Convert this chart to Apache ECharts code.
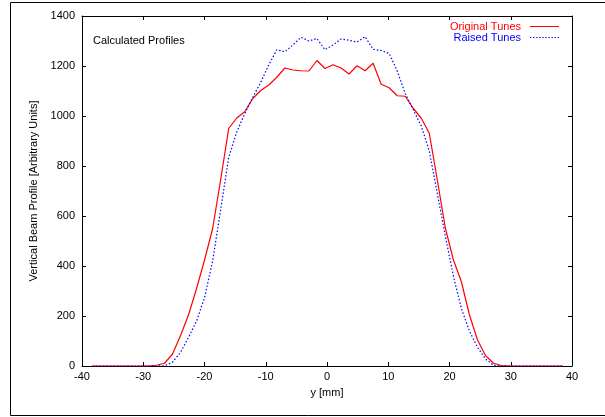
<!DOCTYPE html>
<html>
<head>
<meta charset="utf-8">
<script src="https://cdn.jsdelivr.net/npm/echarts@6/dist/echarts.min.js"></script>
<style>
  html, body { margin: 0; padding: 0; background: #ffffff; }
  #chart { width: 605px; height: 417px; }
</style>
</head>
<body>
<div id="chart"></div>
<script>
// Sample positions y [mm]
var yPositions = [
  -38.32, -37.01, -35.70, -34.39, -33.08, -31.77, -30.46, -29.15, -27.84, -26.53,
  -25.22, -23.91, -22.60, -21.29, -19.98, -18.67, -17.36, -16.05, -14.74, -13.43,
  -12.12, -10.81, -9.50, -8.19, -6.88, -5.57, -4.26, -2.95, -1.64, -0.33,
  0.98, 2.29, 3.60, 4.91, 6.22, 7.53, 8.84, 10.15, 11.46, 12.77,
  14.08, 15.39, 16.70, 18.01, 19.32, 20.63, 21.94, 23.25, 24.56, 25.87,
  27.18, 28.49, 29.80, 31.11, 32.42, 33.73, 35.04, 36.35, 37.66, 38.50
];
// Original Tunes profile
var originalTunes = [
  0, 0, 0, 0, 0, 0, 0, 0, 3, 11,
  48, 122, 205, 310, 425, 550, 745, 950, 992, 1017,
  1070, 1102, 1124, 1155, 1192, 1184, 1181, 1180, 1222, 1190,
  1205, 1192, 1168, 1201, 1181, 1211, 1127, 1113, 1081, 1079,
  1031, 991, 931, 744, 552, 425, 337, 205, 105, 42,
  11, 2, 0, 0, 0, 0, 0, 0, 0, 0
];
// Raised Tunes profile
var raisedTunes = [
  0, 0, 0, 0, 0, 0, 0, 0, 0, 1,
  15, 55, 115, 180, 275, 420, 625, 835, 935, 1010,
  1075, 1135, 1205, 1265, 1257, 1284, 1315, 1300, 1310, 1265,
  1284, 1308, 1303, 1296, 1317, 1267, 1262, 1250, 1180, 1090,
  1025, 960, 860, 690, 520, 360, 230, 140, 75, 28,
  3, 0, 0, 0, 0, 0, 0, 0, 0, 0
];
var xTicks = [-40, -30, -20, -10, 0, 10, 20, 30, 40];
var yTicks = [0, 200, 400, 600, 800, 1000, 1200, 1400];

function pairs(xs, ys) {
  var out = [];
  for (var i = 0; i < xs.length; i++) out.push([xs[i], ys[i]]);
  return out;
}

// legend sample icons: a solid stroke and a row of dots
var solidIcon = 'path://M0,0h29v1h-29z';
var dottedIcon = 'path://' + (function () {
  var s = '';
  for (var i = 0; i < 10; i++) s += 'M' + (i * 3) + ',0h1.3v1h-1.3z';
  return s;
})();

var FONT = '"Liberation Sans", Arial, Helvetica, sans-serif';
var chart = echarts.init(document.getElementById('chart'), null, { renderer: 'canvas' });

var axisLineStyle = { onZero: false, lineStyle: { color: '#000', width: 1 } };
var plain = function (v) { return String(v); };
var option = {
  animation: false,
  backgroundColor: '#fff',
  textStyle: { fontFamily: FONT },
  grid: { left: 82, right: 33, top: 16, bottom: 51, containLabel: false },
  legend: {
    orient: 'vertical',
    right: 46,
    top: 21,
    align: 'right',
    padding: 0,
    itemGap: 0,
    itemWidth: 29,
    itemHeight: 1,
    symbolKeepAspect: false,
    textStyle: { fontSize: 11, fontFamily: FONT, padding: [0, 4, 0, 0] },
    data: [
      { name: 'Original Tunes', icon: solidIcon, itemStyle: { color: '#ff0000' }, textStyle: { color: '#ff0000' } },
      { name: 'Raised Tunes', icon: dottedIcon, itemStyle: { color: '#0000ff' }, textStyle: { color: '#0000ff' } }
    ]
  },
  xAxis: [
    {
      type: 'value', position: 'bottom',
      min: xTicks[0], max: xTicks[xTicks.length - 1], interval: 10,
      name: 'y [mm]', nameLocation: 'middle', nameGap: 21,
      nameTextStyle: { fontSize: 11, color: '#000', fontFamily: FONT },
      axisLine: axisLineStyle,
      axisTick: { inside: true, length: 4, lineStyle: { color: '#000' } },
      axisLabel: { fontSize: 11, color: '#000', margin: 5, fontFamily: FONT, formatter: plain },
      splitLine: { show: false }
    },
    {
      type: 'value', position: 'top',
      min: xTicks[0], max: xTicks[xTicks.length - 1], interval: 10,
      axisLine: axisLineStyle,
      axisTick: { inside: true, length: 4, lineStyle: { color: '#000' } },
      axisLabel: { show: false },
      splitLine: { show: false }
    }
  ],
  yAxis: [
    {
      type: 'value', position: 'left',
      min: yTicks[0], max: yTicks[yTicks.length - 1], interval: 200,
      name: 'Vertical Beam Profile [Arbitrary Units]', nameLocation: 'middle', nameGap: 38,
      nameTextStyle: { fontSize: 11, color: '#000', fontFamily: FONT },
      axisLine: axisLineStyle,
      axisTick: { inside: true, length: 4, lineStyle: { color: '#000' } },
      axisLabel: { fontSize: 11, color: '#000', margin: 7, fontFamily: FONT, formatter: plain },
      splitLine: { show: false }
    },
    {
      type: 'value', position: 'right',
      min: yTicks[0], max: yTicks[yTicks.length - 1], interval: 200,
      axisLine: axisLineStyle,
      axisTick: { inside: true, length: 4, lineStyle: { color: '#000' } },
      axisLabel: { show: false },
      splitLine: { show: false }
    }
  ],
  graphic: [
    {
      type: 'rect', silent: true,
      shape: { x: 10.5, y: 2.5, width: 640, height: 413 },
      style: { fill: 'none', stroke: '#000', lineWidth: 1 }
    },
    {
      type: 'text', left: 93, top: 35, silent: true,
      style: { text: 'Calculated Profiles', fontSize: 11, fill: '#000', font: '11px ' + FONT }
    }
  ],
  series: [
    {
      name: 'Original Tunes', type: 'line', xAxisIndex: 0, yAxisIndex: 0,
      data: pairs(yPositions, originalTunes),
      showSymbol: false, symbol: 'none',
      lineStyle: { color: '#ff0000', width: 1.2 },
      itemStyle: { color: '#ff0000' }
    },
    {
      name: 'Raised Tunes', type: 'line', xAxisIndex: 0, yAxisIndex: 0,
      data: pairs(yPositions, raisedTunes),
      showSymbol: false, symbol: 'none',
      lineStyle: { color: '#0000ff', width: 1.2, type: [1.5, 2] },
      itemStyle: { color: '#0000ff' }
    }
  ]
};
chart.setOption(option);
</script>
</body>
</html>
